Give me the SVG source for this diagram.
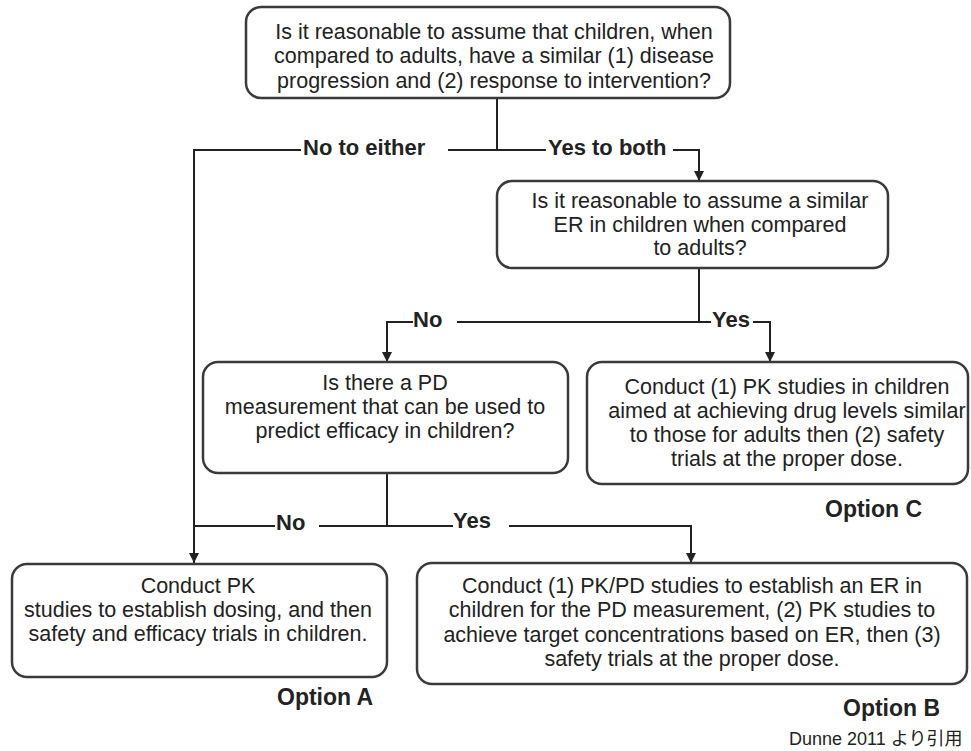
<svg xmlns="http://www.w3.org/2000/svg" width="971" height="751" viewBox="0 0 971 751">
<defs>
<style>
.box{fill:#fff;stroke:#3a3a3a;stroke-width:2.5}
.t{font-family:"Liberation Sans",Arial,sans-serif;font-size:21.5px;fill:#222;text-anchor:middle}
.lbl{font-family:"Liberation Sans",Arial,sans-serif;font-size:22px;font-weight:bold;fill:#222}
.opt{font-family:"Liberation Sans",Arial,sans-serif;font-size:23px;font-weight:bold;fill:#222}
.c{fill:none;stroke:#222;stroke-width:2}
.src{font-family:"Liberation Sans","Noto Sans CJK JP",sans-serif;font-size:18px;fill:#222}
</style>
<marker id="ah" markerUnits="userSpaceOnUse" markerWidth="12" markerHeight="12" refX="11" refY="6" orient="auto" viewBox="0 0 12 12">
<path d="M1,1 L11,6 L1,11 Z" fill="#222"/>
</marker>
</defs>
<rect width="971" height="751" fill="#fff"/>

<g id="connectors">
<path class="c" d="M497,98 V150"/>
<path class="c" d="M301,150 H194 V526"/>
<path class="c" d="M194,526 V563" marker-end="url(#ah)"/>
<path class="c" d="M448,150 H546"/>
<path class="c" d="M673,150 H699 V181" marker-end="url(#ah)"/>
<path class="c" d="M699,268 V322"/>
<path class="c" d="M699,322 H457"/>
<path class="c" d="M413,322 H387 V362" marker-end="url(#ah)"/>
<path class="c" d="M699,322 H711"/>
<path class="c" d="M753,322 H770 V362" marker-end="url(#ah)"/>
<path class="c" d="M387,473 V526"/>
<path class="c" d="M387,526 H319"/>
<path class="c" d="M275,526 H194"/>
<path class="c" d="M387,526 H453"/>
<path class="c" d="M509,526 H691 V563" marker-end="url(#ah)"/>
<text class="lbl" x="303" y="155">No to either</text>
<text class="lbl" x="548" y="155">Yes to both</text>
<text class="lbl" x="413" y="327">No</text>
<text class="lbl" x="712" y="327">Yes</text>
<text class="lbl" x="276" y="530">No</text>
<text class="lbl" x="453" y="528">Yes</text>
</g>

<g id="q1">
<rect class="box" x="246" y="7" width="484" height="91" rx="15"/>
<text class="t" x="494" y="39">Is it reasonable to assume that children, when</text>
<text class="t" x="494" y="63">compared to adults, have a similar (1) disease</text>
<text class="t" x="494" y="88">progression and (2) response to intervention?</text>
</g>

<g id="q2">
<rect class="box" x="497" y="181" width="391" height="87" rx="15"/>
<text class="t" x="700" y="208">Is it reasonable to assume a similar</text>
<text class="t" x="700" y="232">ER in children when compared</text>
<text class="t" x="700" y="255">to adults?</text>
</g>

<g id="q3">
<rect class="box" x="203" y="362" width="365" height="111" rx="15"/>
<text class="t" x="385" y="390">Is there a PD</text>
<text class="t" x="385" y="414">measurement that can be used to</text>
<text class="t" x="385" y="438">predict efficacy in children?</text>
</g>

<g id="optC">
<rect class="box" x="587" y="362" width="381" height="122" rx="15"/>
<text class="t" x="787" y="394">Conduct (1) PK studies in children</text>
<text class="t" x="787" y="418">aimed at achieving drug levels similar</text>
<text class="t" x="787" y="442">to those for adults then (2) safety</text>
<text class="t" x="787" y="466">trials at the proper dose.</text>
<text class="opt" x="825" y="517">Option C</text>
</g>

<g id="optA">
<rect class="box" x="12" y="564" width="375" height="113" rx="15"/>
<text class="t" x="198" y="593">Conduct PK</text>
<text class="t" x="198" y="617">studies to establish dosing, and then</text>
<text class="t" x="198" y="641">safety and efficacy trials in children.</text>
<text class="opt" x="277" y="705">Option A</text>
</g>

<g id="optB">
<rect class="box" x="417" y="563" width="550" height="121" rx="15"/>
<text class="t" x="692" y="593">Conduct (1) PK/PD studies to establish an ER in</text>
<text class="t" x="692" y="617">children for the PD measurement, (2) PK studies to</text>
<text class="t" x="692" y="642">achieve target concentrations based on ER, then (3)</text>
<text class="t" x="692" y="666">safety trials at the proper dose.</text>
<text class="opt" x="843" y="716">Option B</text>
</g>

<text class="src" x="789" y="745">Dunne 2011 より引用</text>
</svg>
